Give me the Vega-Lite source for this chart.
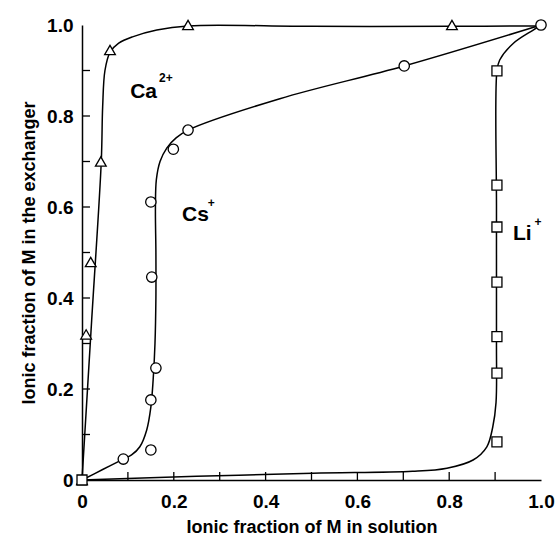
{
  "$schema": "https://vega.github.io/schema/vega-lite/v6.json",
  "width": 459,
  "height": 455,
  "autosize": {"type": "none"},
  "padding": {"left": 82, "top": 25, "right": 18, "bottom": 57},
  "background": "white",
  "config": {
    "view": {"stroke": null},
    "axis": {
      "domainColor": "black",
      "domainWidth": 1.5,
      "grid": false,
      "ticks": false,
      "labelFont": "Liberation Sans",
      "labelFontSize": 19,
      "labelFontWeight": "bold",
      "labelColor": "black",
      "labelFlush": false,
      "labelOverlap": false,
      "titleFont": "Liberation Sans",
      "titleFontSize": 18,
      "titleFontWeight": "bold",
      "titleColor": "black"
    }
  },
  "datasets": {
    "curves": [
      {"series": "Ca", "i": 0, "x": 0, "y": 0},
      {"series": "Ca", "i": 1, "x": 0.021, "y": 0.35},
      {"series": "Ca", "i": 2, "x": 0.042, "y": 0.70},
      {"series": "Ca", "i": 3, "x": 0.045, "y": 0.82},
      {"series": "Ca", "i": 4, "x": 0.050, "y": 0.90},
      {"series": "Ca", "i": 5, "x": 0.061, "y": 0.940},
      {"series": "Ca", "i": 6, "x": 0.080, "y": 0.960},
      {"series": "Ca", "i": 7, "x": 0.110, "y": 0.974},
      {"series": "Ca", "i": 8, "x": 0.163, "y": 0.989},
      {"series": "Ca", "i": 9, "x": 0.231, "y": 0.998},
      {"series": "Ca", "i": 10, "x": 0.5, "y": 0.997},
      {"series": "Ca", "i": 11, "x": 0.806, "y": 0.997},
      {"series": "Ca", "i": 12, "x": 1, "y": 0.998},
      {"series": "Cs", "i": 0, "x": 0, "y": 0},
      {"series": "Cs", "i": 1, "x": 0.045, "y": 0.023},
      {"series": "Cs", "i": 2, "x": 0.090, "y": 0.046},
      {"series": "Cs", "i": 3, "x": 0.108, "y": 0.055},
      {"series": "Cs", "i": 4, "x": 0.126, "y": 0.073},
      {"series": "Cs", "i": 5, "x": 0.141, "y": 0.11},
      {"series": "Cs", "i": 6, "x": 0.150, "y": 0.16},
      {"series": "Cs", "i": 7, "x": 0.155, "y": 0.22},
      {"series": "Cs", "i": 8, "x": 0.159, "y": 0.30},
      {"series": "Cs", "i": 9, "x": 0.161, "y": 0.40},
      {"series": "Cs", "i": 10, "x": 0.161, "y": 0.50},
      {"series": "Cs", "i": 11, "x": 0.160, "y": 0.60},
      {"series": "Cs", "i": 12, "x": 0.162, "y": 0.66},
      {"series": "Cs", "i": 13, "x": 0.170, "y": 0.70},
      {"series": "Cs", "i": 14, "x": 0.185, "y": 0.73},
      {"series": "Cs", "i": 15, "x": 0.205, "y": 0.752},
      {"series": "Cs", "i": 16, "x": 0.231, "y": 0.769},
      {"series": "Cs", "i": 17, "x": 0.431, "y": 0.838},
      {"series": "Cs", "i": 18, "x": 0.702, "y": 0.91},
      {"series": "Cs", "i": 19, "x": 1, "y": 1},
      {"series": "Li", "i": 0, "x": 0, "y": 0},
      {"series": "Li", "i": 1, "x": 0.25, "y": 0.008},
      {"series": "Li", "i": 2, "x": 0.503, "y": 0.015},
      {"series": "Li", "i": 3, "x": 0.72, "y": 0.019},
      {"series": "Li", "i": 4, "x": 0.795, "y": 0.026},
      {"series": "Li", "i": 5, "x": 0.852, "y": 0.044},
      {"series": "Li", "i": 6, "x": 0.882, "y": 0.073},
      {"series": "Li", "i": 7, "x": 0.895, "y": 0.117},
      {"series": "Li", "i": 8, "x": 0.902, "y": 0.17},
      {"series": "Li", "i": 9, "x": 0.903, "y": 0.30},
      {"series": "Li", "i": 10, "x": 0.903, "y": 0.60},
      {"series": "Li", "i": 11, "x": 0.904, "y": 0.899},
      {"series": "Li", "i": 12, "x": 0.91, "y": 0.923},
      {"series": "Li", "i": 13, "x": 0.94, "y": 0.96},
      {"series": "Li", "i": 14, "x": 0.983, "y": 0.989},
      {"series": "Li", "i": 15, "x": 1, "y": 1}
    ],
    "points": [
      {"series": "Ca", "x": 0, "y": 0},
      {"series": "Ca", "x": 0.009, "y": 0.32},
      {"series": "Ca", "x": 0.019, "y": 0.479},
      {"series": "Ca", "x": 0.041, "y": 0.70},
      {"series": "Ca", "x": 0.061, "y": 0.945},
      {"series": "Ca", "x": 0.231, "y": 1.0},
      {"series": "Ca", "x": 0.806, "y": 1.0},
      {"series": "Cs", "x": 0.090, "y": 0.046},
      {"series": "Cs", "x": 0.150, "y": 0.066},
      {"series": "Cs", "x": 0.150, "y": 0.176},
      {"series": "Cs", "x": 0.161, "y": 0.246},
      {"series": "Cs", "x": 0.152, "y": 0.446},
      {"series": "Cs", "x": 0.150, "y": 0.611},
      {"series": "Cs", "x": 0.199, "y": 0.727},
      {"series": "Cs", "x": 0.231, "y": 0.769},
      {"series": "Cs", "x": 0.702, "y": 0.91},
      {"series": "Cs", "x": 1.0, "y": 1.0},
      {"series": "Li", "x": 0, "y": 0},
      {"series": "Li", "x": 0.904, "y": 0.084},
      {"series": "Li", "x": 0.904, "y": 0.235},
      {"series": "Li", "x": 0.904, "y": 0.315},
      {"series": "Li", "x": 0.904, "y": 0.435},
      {"series": "Li", "x": 0.904, "y": 0.556},
      {"series": "Li", "x": 0.904, "y": 0.648},
      {"series": "Li", "x": 0.904, "y": 0.899}
    ],
    "ticks": [
      {"v": 0.1}, {"v": 0.2}, {"v": 0.3}, {"v": 0.4}, {"v": 0.5},
      {"v": 0.6}, {"v": 0.7}, {"v": 0.8}, {"v": 0.9}
    ],
    "labels": [
      {"text": "Ca", "x": 0.105, "y": 0.84, "size": 21},
      {"text": "2+", "x": 0.168, "y": 0.874, "size": 12},
      {"text": "Cs", "x": 0.218, "y": 0.569, "size": 21},
      {"text": "+", "x": 0.274, "y": 0.60, "size": 12},
      {"text": "Li", "x": 0.939, "y": 0.527, "size": 21},
      {"text": "+", "x": 0.986, "y": 0.558, "size": 12}
    ]
  },
  "layer": [
    {
      "data": {"name": "curves"},
      "mark": {"type": "line", "interpolate": "catmull-rom", "color": "black", "strokeWidth": 1.5, "clip": false},
      "encoding": {
        "x": {
          "field": "x", "type": "quantitative",
          "scale": {"domain": [0, 1], "nice": false, "zero": false},
          "axis": {
            "title": "Ionic fraction of M in solution",
            "values": [0, 0.2, 0.4, 0.6, 0.8, 1.0],
            "labelExpr": "datum.value==0 ? '0' : format(datum.value, '.1f')",
            "labelPadding": 12,
            "titlePadding": 7
          }
        },
        "y": {
          "field": "y", "type": "quantitative",
          "scale": {"domain": [0, 1], "nice": false, "zero": false},
          "axis": {
            "title": "Ionic fraction of M in the exchanger",
            "values": [0, 0.2, 0.4, 0.6, 0.8, 1.0],
            "labelExpr": "datum.value==0 ? '0' : format(datum.value, '.1f')",
            "labelPadding": 9,
            "titlePadding": 8
          }
        },
        "detail": {"field": "series"},
        "order": {"field": "i", "type": "quantitative"}
      }
    },
    {
      "data": {"name": "ticks"},
      "mark": {"type": "rule", "color": "black", "strokeWidth": 1.3},
      "encoding": {
        "x": {"field": "v", "type": "quantitative"},
        "y": {"datum": 0},
        "y2": {"datum": 0.0176}
      }
    },
    {
      "data": {"name": "ticks"},
      "mark": {"type": "rule", "color": "black", "strokeWidth": 1.3},
      "encoding": {
        "y": {"field": "v", "type": "quantitative"},
        "x": {"datum": 0},
        "x2": {"datum": 0.0174}
      }
    },
    {
      "data": {"name": "points"},
      "mark": {"type": "point", "filled": true, "fill": "white", "stroke": "black", "strokeWidth": 1.3, "opacity": 1, "clip": false},
      "encoding": {
        "x": {"field": "x", "type": "quantitative"},
        "y": {"field": "y", "type": "quantitative"},
        "shape": {
          "field": "series", "type": "nominal",
          "scale": {"domain": ["Ca", "Cs", "Li"], "range": ["triangle-up", "circle", "square"]},
          "legend": null
        },
        "size": {
          "field": "series", "type": "nominal",
          "scale": {"domain": ["Ca", "Cs", "Li"], "range": [115, 100, 64]},
          "legend": null
        }
      }
    },
    {
      "data": {"name": "labels"},
      "mark": {"type": "text", "align": "left", "baseline": "alphabetic", "font": "Liberation Sans", "fontWeight": "bold", "color": "black"},
      "encoding": {
        "x": {"field": "x", "type": "quantitative"},
        "y": {"field": "y", "type": "quantitative"},
        "text": {"field": "text"},
        "size": {"field": "size", "type": "quantitative", "scale": null}
      }
    }
  ]
}
